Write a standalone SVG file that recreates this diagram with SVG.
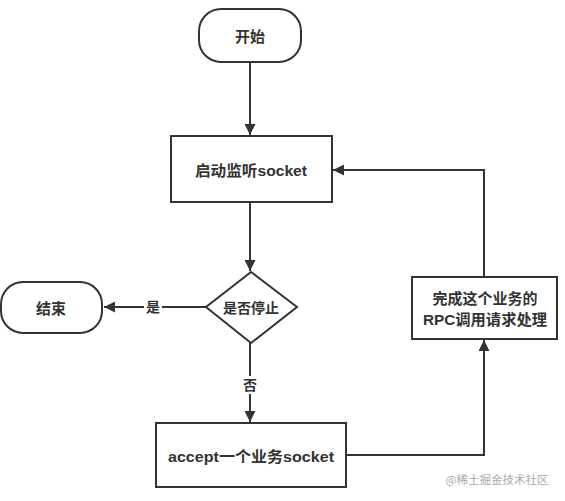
<svg xmlns="http://www.w3.org/2000/svg" width="565" height="501" viewBox="0 0 565 501">
<defs>
<marker id="arr" viewBox="0 0 10 10" refX="10" refY="5" markerWidth="5.5" markerHeight="5.5" orient="auto" markerUnits="strokeWidth">
<path d="M0,0 L10,5 L0,10 z" fill="#333"/>
</marker>
<style>
.n{fill:#fff;stroke:#333;stroke-width:2}
.t{font-family:"Liberation Sans","Noto Sans CJK SC",sans-serif;font-size:15px;font-weight:bold;fill:#333;text-anchor:middle;dominant-baseline:central}
.c{fill:none;stroke:#333;stroke-width:2;marker-end:url(#arr)}
</style>
</defs>
<rect width="565" height="501" fill="#fff"/>
<g id="connectors">
<path class="c" d="M250,62 L250,135"/>
<path class="c" d="M250,202 L250,271"/>
<path class="c" d="M206,307 L104,307"/>
<rect x="144" y="299" width="18" height="16" fill="#fff"/>
<text class="t" x="153" y="307" style="font-size:14px">是</text>
<path class="c" d="M250,343 L250,422"/>
<rect x="242" y="376" width="16" height="18" fill="#fff"/>
<text class="t" x="250" y="385" style="font-size:14px">否</text>
<path class="c" d="M346,455 L484,455 L484,340"/>
<path class="c" d="M484,277 L484,170 L333,170"/>
</g>
<g id="start">
<rect class="n" x="199" y="9" width="102" height="53" rx="22"/>
<text class="t" x="250" y="36">开始</text>
</g>
<g id="listen">
<rect class="n" x="171" y="136" width="161" height="66"/>
<text class="t" x="251" y="170" textLength="112" lengthAdjust="spacingAndGlyphs">启动监听socket</text>
</g>
<g id="decision">
<polygon class="n" points="251,272 297,307 251,343 206,307"/>
<text class="t" x="251" y="308" style="font-size:14px">是否停止</text>
</g>
<g id="end">
<rect class="n" x="1" y="282" width="101" height="51" rx="22"/>
<text class="t" x="51" y="308">结束</text>
</g>
<g id="accept">
<rect class="n" x="156" y="423" width="190" height="64"/>
<text class="t" x="251" y="456" textLength="166" lengthAdjust="spacingAndGlyphs">accept一个业务socket</text>
</g>
<g id="rpc">
<rect class="n" x="412" y="277" width="145" height="62"/>
<text class="t" x="485" y="298">完成这个业务的</text>
<text class="t" x="485" y="319" textLength="124" lengthAdjust="spacingAndGlyphs">RPC调用请求处理</text>
</g>
<text x="497" y="484" style="font-family:'Noto Sans CJK SC',sans-serif;font-size:11.5px;fill:#aaa;text-anchor:middle">@稀土掘金技术社区</text>
</svg>
